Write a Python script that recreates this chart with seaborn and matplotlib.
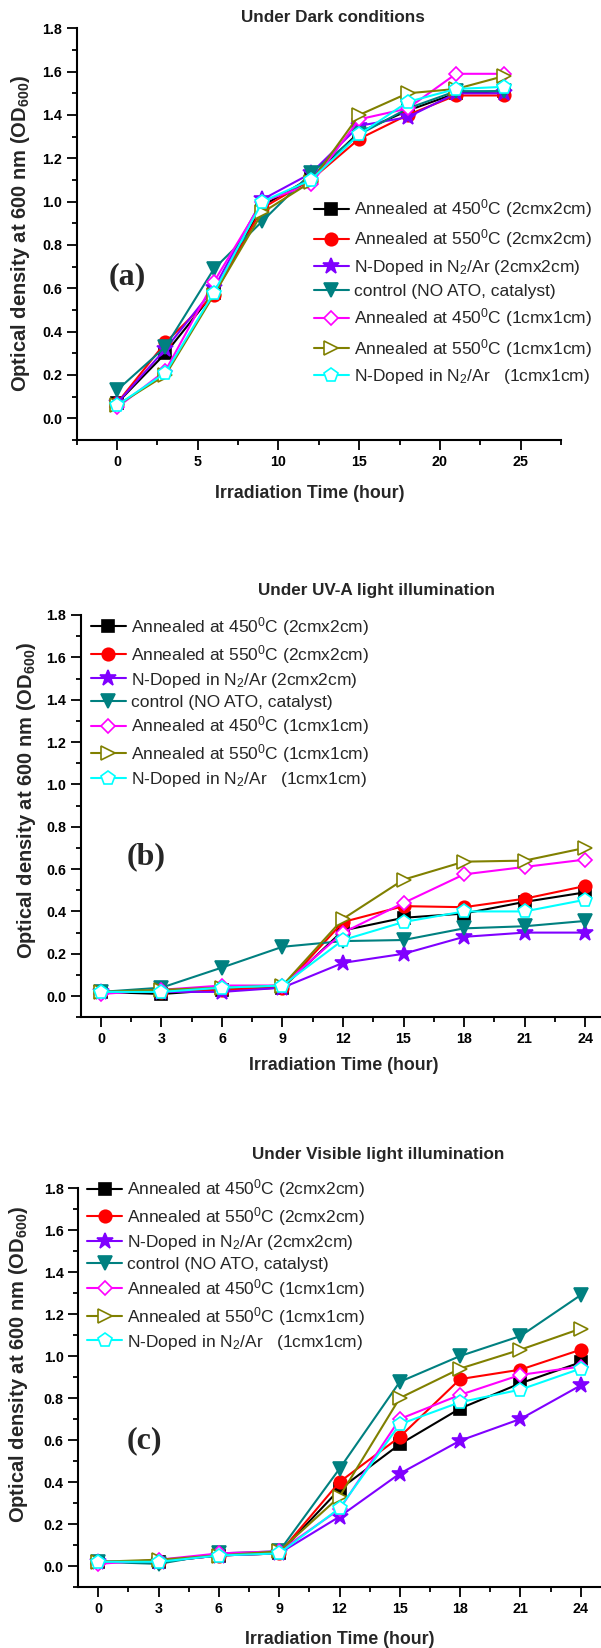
import matplotlib
matplotlib.use("Agg")
import matplotlib.pyplot as plt
import seaborn as sns
from matplotlib import font_manager
from matplotlib.font_manager import FontProperties
from matplotlib.ticker import MultipleLocator

# Irradiation time (hour)
hours = [0, 3, 6, 9, 12, 15, 18, 21, 24]

series_names = [
    "Annealed at 450$^0$C (2cmx2cm)",
    "Annealed at 550$^0$C (2cmx2cm)",
    "N-Doped in N$_2$/Ar (2cmx2cm)",
    "control (NO ATO, catalyst)",
    "Annealed at 450$^0$C (1cmx1cm)",
    "Annealed at 550$^0$C (1cmx1cm)",
    "N-Doped in N$_2$/Ar   (1cmx1cm)",
]

# OD600 values, one row per series (same order as series_names)
dark_od = [
    [0.07, 0.30, 0.58, 0.98, 1.11, 1.32, 1.42, 1.50, 1.51],
    [0.07, 0.35, 0.57, 0.97, 1.10, 1.29, 1.40, 1.49, 1.49],
    [0.07, 0.32, 0.60, 1.01, 1.13, 1.35, 1.39, 1.50, 1.50],
    [0.13, 0.33, 0.69, 0.91, 1.13, 1.31, 1.43, 1.51, 1.51],
    [0.05, 0.22, 0.63, 1.00, 1.08, 1.38, 1.43, 1.59, 1.59],
    [0.06, 0.20, 0.57, 0.95, 1.09, 1.40, 1.50, 1.52, 1.58],
    [0.06, 0.21, 0.58, 1.00, 1.10, 1.31, 1.46, 1.52, 1.53],
]
uva_od = [
    [0.02, 0.01, 0.03, 0.04, 0.31, 0.37, 0.39, 0.445, 0.49],
    [0.02, 0.02, 0.03, 0.04, 0.35, 0.425, 0.42, 0.46, 0.52],
    [0.02, 0.02, 0.02, 0.04, 0.157, 0.20, 0.28, 0.30, 0.30],
    [0.02, 0.04, 0.135, 0.233, 0.26, 0.265, 0.32, 0.33, 0.355],
    [0.01, 0.03, 0.05, 0.05, 0.30, 0.44, 0.575, 0.61, 0.645],
    [0.02, 0.03, 0.04, 0.05, 0.365, 0.55, 0.635, 0.64, 0.70],
    [0.02, 0.02, 0.04, 0.05, 0.265, 0.35, 0.40, 0.40, 0.455],
]
visible_od = [
    [0.02, 0.02, 0.05, 0.06, 0.365, 0.58, 0.75, 0.87, 0.97],
    [0.02, 0.02, 0.05, 0.06, 0.40, 0.615, 0.89, 0.935, 1.03],
    [0.02, 0.02, 0.05, 0.06, 0.235, 0.44, 0.597, 0.70, 0.86],
    [0.02, 0.01, 0.06, 0.07, 0.463, 0.877, 1.00, 1.095, 1.29],
    [0.01, 0.03, 0.06, 0.07, 0.27, 0.70, 0.815, 0.91, 0.95],
    [0.02, 0.03, 0.05, 0.07, 0.33, 0.80, 0.94, 1.03, 1.13],
    [0.02, 0.02, 0.05, 0.06, 0.275, 0.675, 0.78, 0.84, 0.94],
]

colors = ["#000000", "#FF0000", "#8000FF", "#008080", "#FF00FF", "#808000", "#00FFFF"]
markers = ["s", "o", "*", "v", "D", ">", "p"]
msizes = [8, 9, 12, 10, 7, 10, 10]
filled = [True, True, True, True, False, False, False]

sns.set_style("ticks")
plt.rcParams["mathtext.default"] = "regular"

names = {f.name for f in font_manager.fontManager.ttflist}
if "Liberation Sans Narrow" in names:
    narrow, k = "Liberation Sans Narrow", 1.0
else:
    narrow, k = "Liberation Sans", 0.82
plt.rcParams["font.family"] = [narrow, "DejaVu Sans"]

W, H = 601, 1648
fig = plt.figure(figsize=(W / 100, H / 100), dpi=100)


def px_axes(left, right, top, bottom):
    return fig.add_axes([left / W, 1 - bottom / H, (right - left) / W, (bottom - top) / H])


def ftext(x, y, s, **kw):
    fig.text(x / W, 1 - y / H, s, ha="center", va="center", **kw)


panels = [
    dict(vals=dark_od, box=(76.7, 561, 28.3, 440), xlim=(-2.5, 27.5), xmaj=5, xmin=2.5,
         title="Under Dark conditions", tpos=(333, 17), xlpos=(310, 493), ylpos=(21, 233),
         tag="(a)", tagpos=(127, 277), leg=(12.2, 1.02), lsp=0.42),
    dict(vals=uva_od, box=(80.8, 605.2, 615, 1017.3), xlim=(-1, 25), xmaj=3, xmin=1.5,
         title="Under UV-A light illumination", tpos=(377, 590), xlpos=(344, 1066), ylpos=(27, 800),
         tag="(b)", tagpos=(146, 857), leg=(-0.5, 1.8), lsp=0.28),
    dict(vals=visible_od, box=(78.2, 600.8, 1188, 1587), xlim=(-1, 25), xmaj=3, xmin=1.5,
         title="Under Visible light illumination", tpos=(378, 1155), xlpos=(340, 1639), ylpos=(19, 1364),
         tag="(c)", tagpos=(144, 1441), leg=(-0.55, 1.85), lsp=0.28),
]

for p in panels:
    ax = px_axes(*p["box"])
    for i, name in enumerate(series_names):
        sns.lineplot(x=hours, y=p["vals"][i], ax=ax, color=colors[i], linewidth=1.5,
                     marker=markers[i], markersize=msizes[i],
                     markerfacecolor=colors[i] if filled[i] else "white",
                     markeredgecolor=colors[i], markeredgewidth=1.2, label=name)
    ax.set_xlim(*p["xlim"])
    ax.set_ylim(-0.1, 1.8)
    ax.xaxis.set_major_locator(MultipleLocator(p["xmaj"]))
    ax.xaxis.set_minor_locator(MultipleLocator(p["xmin"]))
    ax.yaxis.set_major_locator(MultipleLocator(0.2))
    ax.yaxis.set_minor_locator(MultipleLocator(0.1))
    ax.set_xticks([t for t in ax.get_xticks() if 0 <= t <= max(hours) + 1.01])
    ax.set_yticks([round(0.2 * j, 1) for j in range(10)])
    ax.set_yticklabels([f"{0.2 * j:.1f}" for j in range(10)])
    sns.despine(ax=ax)
    for s in ["left", "bottom"]:
        ax.spines[s].set_linewidth(1.5)
        ax.spines[s].set_color("black")
    ax.tick_params(which="major", direction="out", length=7, width=1.3, colors="black",
                   labelsize=12.5 * k)
    ax.tick_params(which="minor", direction="out", length=3.5, width=1.3, colors="black")
    for lab in ax.get_xticklabels() + ax.get_yticklabels():
        lab.set_fontweight("bold")
    ax.set_xlabel("")
    ax.set_ylabel("")
    ax.legend(loc="upper left", bbox_to_anchor=p["leg"], bbox_transform=ax.transData,
              frameon=False, borderpad=0, borderaxespad=0, handlelength=2.0,
              handletextpad=0.3, labelspacing=p["lsp"],
              prop=FontProperties(family=[narrow, "DejaVu Sans"], size=15.3 * k))

    ftext(*p["tpos"], p["title"], fontsize=15 * k, fontweight="bold")
    ftext(*p["xlpos"], "Irradiation Time (hour)", fontsize=15.6 * k, fontweight="bold")
    ftext(*p["ylpos"], "Optical density at 600 nm (OD$_{600}$)", fontsize=14.5,
          fontweight="bold", rotation=90, family=["Liberation Sans", "DejaVu Sans"])
    ftext(*p["tagpos"], p["tag"], fontsize=23, fontweight="bold",
          family=["Liberation Serif", "DejaVu Serif"])

fig.savefig("out.png", dpi=100)
